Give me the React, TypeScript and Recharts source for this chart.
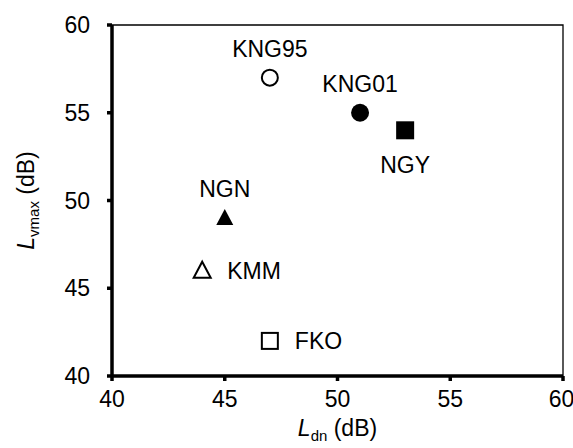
import React from 'react';
import { ScatterChart, Scatter, XAxis, YAxis, ReferenceArea } from 'recharts';

// sites, L_dn and L_vmax (dB)
const sites = ['KNG95', 'KNG01', 'NGY', 'NGN', 'KMM', 'FKO'];
const ldn = [47, 51, 53, 45, 44, 47];
const lvmax = [57, 55, 54, 49, 46, 42];
const axisTicks = [40, 45, 50, 55, 60];

type Mark = { shape: 'circle' | 'square' | 'triangle'; filled: boolean; label: 'top' | 'bottom' | 'right' };
const marks: Record<string, Mark> = {
  KNG95: { shape: 'circle', filled: false, label: 'top' },
  KNG01: { shape: 'circle', filled: true, label: 'top' },
  NGY: { shape: 'square', filled: true, label: 'bottom' },
  NGN: { shape: 'triangle', filled: true, label: 'top' },
  KMM: { shape: 'triangle', filled: false, label: 'right' },
  FKO: { shape: 'square', filled: false, label: 'right' },
};

const data = sites.map((name, i) => ({ name, x: ldn[i], y: lvmax[i] }));
const FONT = '"Liberation Sans", Arial, sans-serif';
const FS = 23;
const SUB = 15;

function Point(props: any) {
  const { cx, cy, payload } = props;
  const m = marks[payload.name];
  const fill = m.filled ? '#000' : '#fff';
  const sw = m.filled ? 0 : 2;
  let marker;
  if (m.shape === 'circle') {
    marker = <circle cx={cx} cy={cy} r={m.filled ? 9 : 8} fill={fill} stroke="#000" strokeWidth={sw} />;
  } else if (m.shape === 'square') {
    const h = m.filled ? 9 : 8;
    marker = <rect x={cx - h} y={cy - h} width={h * 2} height={h * 2} fill={fill} stroke="#000" strokeWidth={sw} />;
  } else {
    marker = (
      <polygon
        points={`${cx},${cy - 9} ${cx + 8.5},${cy + 7} ${cx - 8.5},${cy + 7}`}
        fill={fill}
        stroke="#000"
        strokeWidth={sw}
        strokeLinejoin="miter"
      />
    );
  }
  let tx = cx;
  let ty = cy;
  let anchor: 'middle' | 'start' = 'middle';
  if (m.label === 'top') ty = cy - 29;
  else if (m.label === 'bottom') ty = cy + 34;
  else {
    tx = cx + 25;
    anchor = 'start';
  }
  return (
    <g>
      {marker}
      <text x={tx} y={ty} dy="0.36em" textAnchor={anchor} fontFamily={FONT} fontSize={FS} fill="#000">
        {payload.name}
      </text>
    </g>
  );
}

export default function App() {
  return (
    <div style={{ position: 'absolute', left: 0, top: 0, background: '#fff' }}>
      <ScatterChart width={573} height={448} margin={{ top: 25, right: 10, bottom: 32, left: 72 }}>
        <ReferenceArea x1={40} x2={60} y1={40} y2={60} fill="none" stroke="#000" strokeWidth={1.3} ifOverflow="visible" />
        <XAxis
          type="number"
          dataKey="x"
          domain={[40, 60]}
          ticks={axisTicks}
          height={40}
          axisLine={{ stroke: '#000', strokeWidth: 3.5 }}
          tickLine={{ stroke: '#000', strokeWidth: 3.5 }}
          tickSize={5}
          tickMargin={10}
          tick={{ fill: '#000', fontSize: FS, fontFamily: FONT }}
          label={(p: any) => {
            const vb = p.viewBox;
            return (
              <text x={vb.x + vb.width / 2} y={428} dy="0.36em" textAnchor="middle" fontFamily={FONT} fontSize={FS} fill="#000">
                <tspan fontStyle="italic">L</tspan>
                <tspan fontSize={SUB} dy="5">dn</tspan>
                <tspan dy="-5"> (dB)</tspan>
              </text>
            );
          }}
        />
        <YAxis
          type="number"
          dataKey="y"
          domain={[40, 60]}
          ticks={axisTicks}
          width={40}
          axisLine={{ stroke: '#000', strokeWidth: 3.5 }}
          tickLine={{ stroke: '#000', strokeWidth: 3.5 }}
          tickSize={5}
          tickMargin={17}
          tick={{ fill: '#000', fontSize: FS, fontFamily: FONT }}
          label={(p: any) => {
            const vb = p.viewBox;
            const cy = vb.y + vb.height / 2;
            return (
              <text
                x={26}
                y={cy}
                dy="0.36em"
                textAnchor="middle"
                transform={`rotate(-90 26 ${cy})`}
                fontFamily={FONT}
                fontSize={FS}
                fill="#000"
              >
                <tspan fontStyle="italic">L</tspan>
                <tspan fontSize={SUB} dy="5">vmax</tspan>
                <tspan dy="-5"> (dB)</tspan>
              </text>
            );
          }}
        />
        <Scatter data={data} shape={<Point />} isAnimationActive={false} />
      </ScatterChart>
    </div>
  );
}
